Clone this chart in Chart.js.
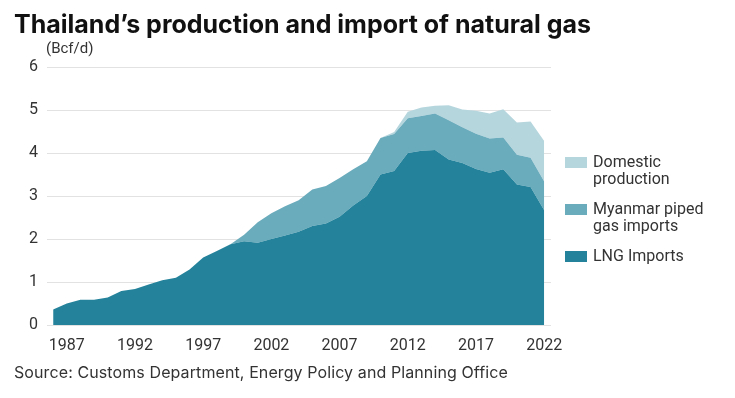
<!DOCTYPE html>
<html>
<head>
<meta charset="utf-8">
<script src="https://cdn.jsdelivr.net/npm/chart.js@4.4.0/dist/chart.umd.min.js"></script>
<style>
  html, body { margin: 0; padding: 0; background: #fff; }
  body { width: 735px; height: 398px; position: relative; overflow: hidden; font-family: Roboto, "Noto Sans", sans-serif; color: #333; }
  #title { position: absolute; left: 14px; top: 9px; font-family: Inter, Roboto, sans-serif; font-size: 25px; font-weight: 700; color: #111; white-space: nowrap; letter-spacing: 0px; }
  #unit { position: absolute; left: 46px; top: 39px; font-size: 15px; color: #333; }
  #source { position: absolute; left: 14px; top: 362px; font-family: Inter, Roboto, sans-serif; font-size: 16px; color: #333; white-space: nowrap; letter-spacing: 0.1px; }
  #wrap { position: absolute; left: 0; top: 0; width: 735px; height: 398px; }
  #legend { position: absolute; left: 565px; top: 153px; font-size: 16px; line-height: 17px; color: #333; }
  .item { display: flex; align-items: flex-start; margin-bottom: 13px; }
  .sw { width: 22px; height: 11px; margin-top: 4px; margin-right: 6px; flex: none; }
</style>
</head>
<body>
<div id="wrap"><canvas id="c" width="735" height="398"></canvas></div>
<div id="title">Thailand’s production and import of natural gas</div>
<div id="unit">(Bcf/d)</div>
<div id="legend"></div>
<div id="source">Source: Customs Department, Energy Policy and Planning Office</div>
<script>
const years = [1986,1987,1988,1989,1990,1991,1992,1993,1994,1995,1996,1997,1998,1999,2000,2001,2002,2003,2004,2005,2006,2007,2008,2009,2010,2011,2012,2013,2014,2015,2016,2017,2018,2019,2020,2021,2022];
const lngImports = [0.36,0.50,0.59,0.59,0.64,0.79,0.84,0.94,1.04,1.10,1.29,1.57,1.72,1.88,1.95,1.91,2.00,2.08,2.17,2.30,2.36,2.52,2.78,3.00,3.50,3.58,4.00,4.05,4.07,3.85,3.77,3.63,3.54,3.62,3.27,3.21,2.67];
const myanmarPiped = [0,0,0,0,0,0,0,0,0,0,0,0,0,0,0.15,0.48,0.60,0.68,0.73,0.85,0.87,0.90,0.84,0.81,0.85,0.86,0.81,0.81,0.85,0.91,0.83,0.82,0.80,0.74,0.69,0.68,0.67];
const domesticProduction = [0,0,0,0,0,0,0,0,0,0,0,0,0,0,0,0,0,0,0,0,0,0,0,0,0,0.05,0.15,0.20,0.18,0.35,0.41,0.53,0.58,0.66,0.75,0.84,0.94];
const xTickYears = [1987,1992,1997,2002,2007,2012,2017,2022];
const yTicks = [0,1,2,3,4,5,6];
const seriesNames = ["Domestic production", "Myanmar piped gas imports", "LNG Imports"];
const colors = { dark: "#24839b", mid: "#6aabbc", light: "#b6d6de" };

function pts(arr) { return years.map((y, i) => ({ x: y, y: arr[i] })); }

const legendEl = document.getElementById('legend');
[[seriesNames[0], colors.light, "Domestic<br>production"], [seriesNames[1], colors.mid, "Myanmar piped<br>gas imports"], [seriesNames[2], colors.dark, "LNG Imports"]].forEach(([n, c, html]) => {
  const d = document.createElement('div'); d.className = 'item';
  d.innerHTML = '<span class="sw" style="background:' + c + '"></span><span>' + html + '</span>';
  legendEl.appendChild(d);
});

const font = { family: 'Roboto, "Noto Sans", sans-serif', size: 16 };
new Chart(document.getElementById('c'), {
  type: 'line',
  data: {
    datasets: [
      { label: seriesNames[2], data: pts(lngImports), backgroundColor: colors.dark, borderWidth: 0, pointRadius: 0, fill: 'origin', tension: 0 },
      { label: seriesNames[1], data: pts(myanmarPiped), backgroundColor: colors.mid, borderWidth: 0, pointRadius: 0, fill: '-1', tension: 0 },
      { label: seriesNames[0], data: pts(domesticProduction), backgroundColor: colors.light, borderWidth: 0, pointRadius: 0, fill: '-1', tension: 0 }
    ]
  },
  options: {
    responsive: false,
    animation: false,
    layout: { padding: { left: 0, right: 184, top: 67, bottom: 43 } },
    plugins: { legend: { display: false }, tooltip: { enabled: false } },
    scales: {
      x: {
        type: 'linear', min: 1985.55, max: 2022.5,
        grid: { display: false },
        border: { display: false },
        afterBuildTicks: s => { s.ticks = xTickYears.map(v => ({ value: v })); },
        afterFit: s => { s.height = 30; },
        ticks: { color: '#333', font: font, padding: 3, maxRotation: 0, autoSkip: false, callback: v => String(v) }
      },
      y: {
        stacked: true, min: 0, max: 6,
        afterBuildTicks: s => { s.ticks = yTicks.map(v => ({ value: v })); },
        afterFit: s => { s.width = 47; },
        grid: { color: '#e2e2e2', drawTicks: false, lineWidth: 1 },
        border: { display: false },
        ticks: { color: '#333', font: font, padding: 9 }
      }
    }
  }
});
</script>
</body>
</html>
